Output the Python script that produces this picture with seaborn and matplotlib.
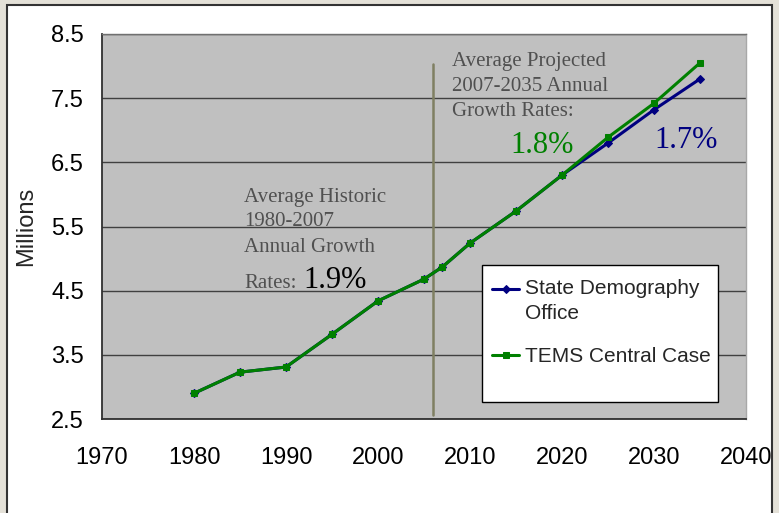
import matplotlib
matplotlib.use("Agg")
import matplotlib.pyplot as plt
import matplotlib.patches as mpatches
import seaborn as sns
import pandas as pd
import numpy as np

# Population series (millions)
years = [1980, 1985, 1990, 2000, 2005, 2007, 2010, 2015, 2020, 2025, 2030, 2035]
sdo_values = [2.90, 3.23, 3.31, 4.34, 4.68, 4.87, 5.24, 5.74, 6.30, 6.80, 7.32, 7.80]
tems_values = [2.90, 3.23, 3.31, 4.34, 4.68, 4.87, 5.24, 5.74, 6.30, 6.89, 7.42, 8.05]
years_1995 = 1995
value_1995 = 3.82

sdo_label = "State Demography\nOffice"
tems_label = "TEMS Central Case"
x_ticks = [1970, 1980, 1990, 2000, 2010, 2020, 2030, 2040]
y_ticks = [2.5, 3.5, 4.5, 5.5, 6.5, 7.5, 8.5]

# insert the 1995 point in order
yrs = sorted(years + [years_1995])
sdo = dict(zip(years, sdo_values)); sdo[years_1995] = value_1995
tems = dict(zip(years, tems_values)); tems[years_1995] = value_1995
df = pd.DataFrame({
    "year": yrs * 2,
    "value": [sdo[y] for y in yrs] + [tems[y] for y in yrs],
    "series": [sdo_label] * len(yrs) + [tems_label] * len(yrs),
})

sns.set_style("white")
plt.rcParams["font.family"] = ["Liberation Sans", "DejaVu Sans"]

fig = plt.figure(figsize=(7.79, 5.13), dpi=100, facecolor="#e4e1d8")
# white chart frame behind the axes
frame = mpatches.Rectangle((7 / 779, -0.02), 765 / 779, 1 - 5 / 513 + 0.02,
                           transform=fig.transFigure, facecolor="white",
                           edgecolor="#333333", linewidth=1.5, zorder=-10)
fig.patches.append(frame)

ax = fig.add_axes([102 / 779, 1 - 419 / 513, 644 / 779, 385 / 513])
ax.set_zorder(1)
ax.set_facecolor("#c0c0c0")

blue = "#000080"
green = "#008000"

sns.lineplot(data=df[df.series == sdo_label], x="year", y="value", ax=ax,
             color=blue, linewidth=2.2, marker="D", markersize=4.5,
             markeredgecolor=blue, label=sdo_label, zorder=3)
sns.lineplot(data=df[df.series == tems_label], x="year", y="value", ax=ax,
             color=green, linewidth=2.2, marker="s", markersize=5,
             markeredgecolor=green, label=tems_label, zorder=4)

ax.set_xlim(1970, 2040)
ax.set_ylim(2.5, 8.5)
ax.set_xticks(x_ticks)
ax.set_yticks(y_ticks)
ax.set_yticklabels([f"{v:.1f}" for v in y_ticks])
ax.tick_params(axis="both", labelsize=17, colors="black", direction="out",
               length=7, width=1.2, pad=6)
ax.tick_params(axis="x", pad=13)
ax.yaxis.grid(True, color="#404040", linewidth=1.0)
ax.xaxis.grid(False)
ax.set_axisbelow(True)
for side in ["left", "bottom"]:
    ax.spines[side].set_color("#303030")
    ax.spines[side].set_linewidth(1.3)
ax.spines["top"].set_color("#707070")
ax.spines["top"].set_linewidth(1.0)
ax.spines["right"].set_color("#a8a8a8")
ax.spines["right"].set_linewidth(1.0)
ax.set_xlabel("")
ax.set_ylabel("Millions", fontsize=17, labelpad=10)

# divider between historic and projected periods
ax.axvline(2006, ymin=0.0104, ymax=0.922, color="#7f7f62", linewidth=1.8, zorder=2)

serif = ["Liberation Serif", "DejaVu Serif"]
grey_txt = "#505050"
ax.text(1985.43, 5.88, "Average Historic", family=serif, fontsize=15, color=grey_txt)
ax.text(1985.43, 5.51, "1980-2007", family=serif, fontsize=15, color=grey_txt)
ax.text(1985.43, 5.10, "Annual Growth", family=serif, fontsize=15, color=grey_txt)
ax.text(1985.43, 4.54, "Rates:", family=serif, fontsize=15, color=grey_txt)
ax.text(1991.85, 4.54, "1.9%", family=serif, fontsize=22, color="black")

ax.text(2008.04, 8.00, "Average Projected", family=serif, fontsize=15, color=grey_txt)
ax.text(2008.04, 7.61, "2007-2035 Annual", family=serif, fontsize=15, color=grey_txt)
ax.text(2008.04, 7.22, "Growth Rates:", family=serif, fontsize=15, color=grey_txt)
ax.text(2014.35, 6.645, "1.8%", family=serif, fontsize=22, color=green)
ax.text(2030.0, 6.72, "1.7%", family=serif, fontsize=22, color=blue)

# legend box
box = mpatches.Rectangle((0.590, 0.0442), 0.3665, 0.3558, transform=ax.transAxes,
                         facecolor="white", edgecolor="black", linewidth=1.0,
                         zorder=5)
ax.add_patch(box)
leg = ax.legend(loc="upper left", bbox_to_anchor=(0.6056, 0.363), borderaxespad=0,
                fontsize=15, frameon=False, handlelength=1.3, handletextpad=0.3,
                labelspacing=1.15, borderpad=0)
leg.set_zorder(6)
for t in leg.get_texts():
    t.set_linespacing(1.4)
# put the first handle beside the first line of its label
first = leg.get_lines()[0]
first.set_ydata(np.asarray(first.get_ydata()) + 9)

fig.savefig("out.png", dpi=100, facecolor=fig.get_facecolor())
